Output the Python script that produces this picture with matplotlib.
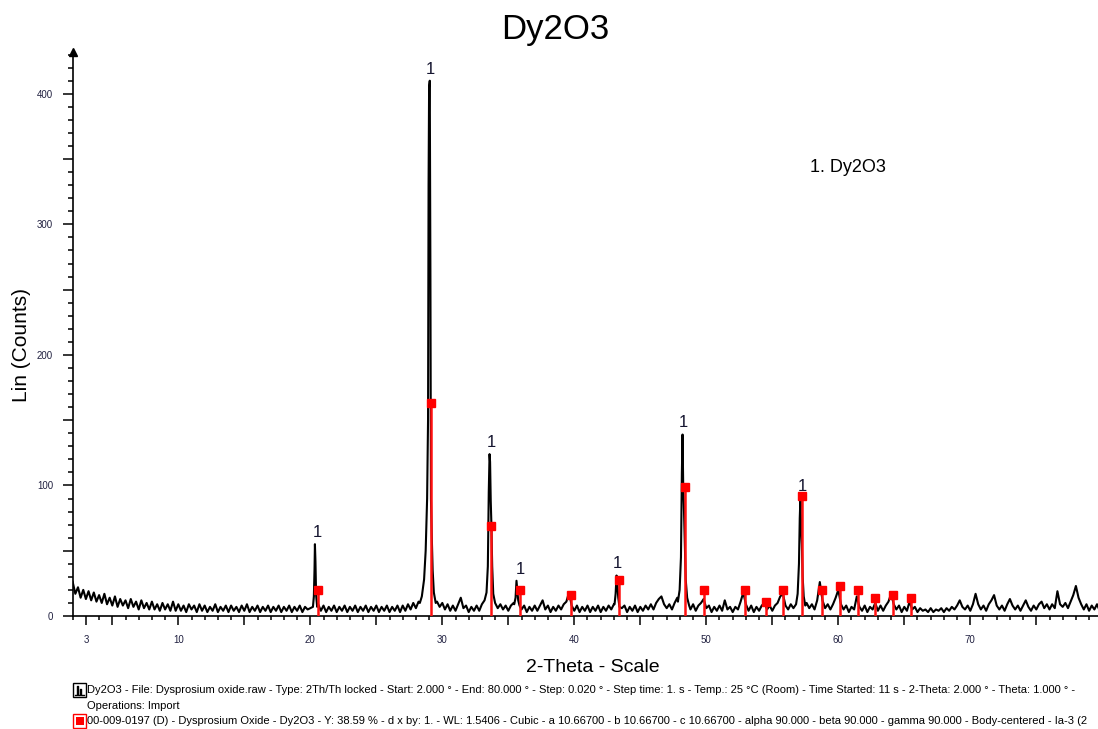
import matplotlib.pyplot as plt
import numpy as np
from matplotlib.patches import Rectangle
from matplotlib.lines import Line2D

plt.rcParams['font.family'] = ['Liberation Sans', 'DejaVu Sans']

# scan trace every 0.2 deg, starting at 2.0 deg
scan_start = 2.0
scan_step = 0.2
bg_counts = [
    26, 17, 22, 14, 20, 13, 19, 12, 18, 11,
    16, 10, 17, 9, 14, 8, 15, 7, 13, 8,
    12, 6, 13, 7, 11, 5, 12, 6, 10, 5,
    11, 5, 9, 4, 10, 5, 9, 4, 11, 4,
    9, 4, 8, 3, 9, 5, 8, 3, 9, 4,
    8, 3, 7, 4, 9, 3, 7, 4, 8, 3,
    8, 4, 7, 3, 8, 4, 9, 3, 7, 4,
    8, 3, 7, 4, 8, 3, 7, 4, 8, 3,
    7, 4, 8, 3, 7, 4, 8, 3, 7, 5,
    6, 9, 50, 9, 4, 8, 3, 7, 4, 8,
    3, 7, 4, 8, 3, 7, 4, 8, 3, 7,
    4, 8, 3, 7, 4, 8, 3, 7, 4, 8,
    3, 7, 4, 8, 3, 8, 4, 9, 5, 10,
    6, 11, 9, 14, 40, 400, 60, 20, 11, 7,
    10, 5, 9, 4, 8, 4, 9, 14, 6, 8,
    3, 7, 4, 8, 4, 9, 11, 20, 120, 18,
    10, 6, 9, 5, 8, 4, 8, 10, 27, 12,
    5, 8, 3, 7, 4, 8, 4, 8, 12, 5,
    8, 3, 7, 4, 8, 5, 9, 11, 18, 8,
    4, 8, 3, 7, 4, 8, 3, 7, 4, 8,
    3, 7, 4, 8, 5, 9, 31, 14, 6, 8,
    3, 7, 4, 8, 3, 7, 4, 8, 5, 9,
    5, 10, 13, 15, 9, 6, 9, 5, 10, 14,
    22, 139, 25, 9, 5, 9, 4, 8, 10, 13,
    6, 8, 3, 7, 4, 8, 4, 12, 5, 7,
    3, 7, 5, 11, 18, 9, 4, 8, 3, 7,
    4, 8, 10, 5, 8, 4, 8, 10, 15, 17,
    8, 5, 9, 6, 10, 14, 90, 20, 10, 6,
    9, 5, 12, 26, 12, 6, 9, 5, 9, 14,
    20, 9, 5, 8, 3, 7, 5, 15, 7, 4,
    8, 3, 7, 5, 10, 4, 8, 4, 8, 11,
    17, 9, 5, 8, 3, 7, 4, 11, 5, 7,
    3, 6, 4, 5, 3, 6, 3, 5, 4, 6,
    3, 6, 4, 7, 5, 8, 12, 7, 5, 8,
    4, 9, 17, 9, 5, 8, 4, 9, 12, 16,
    8, 5, 8, 4, 9, 13, 8, 5, 8, 4,
    8, 12, 7, 4, 8, 5, 9, 11, 6, 9,
    5, 9, 6, 19, 9, 7, 10, 6, 11, 16,
    23, 14, 9, 5, 9, 4, 8, 5, 9, 4,
]

# finer readings across the strong reflections
peak_tt = [
    [20.2, 20.27, 20.32, 20.35, 20.39, 20.44, 20.52],
    [28.3, 28.45, 28.62, 28.74, 28.85, 28.92, 28.96, 29.0, 29.05, 29.1, 29.14, 29.2, 29.27, 29.36, 29.5],
    [33.2, 33.35, 33.45, 33.52, 33.58, 33.62, 33.67, 33.72, 33.78, 33.86, 34.0],
    [35.45, 35.55, 35.62, 35.68, 35.75, 35.85],
    [43.05, 43.13, 43.2, 43.26, 43.33, 43.42],
    [47.85, 47.98, 48.08, 48.15, 48.2, 48.25, 48.3, 48.36, 48.44, 48.55, 48.7],
    [56.8, 56.92, 57.02, 57.08, 57.13, 57.18, 57.24, 57.3, 57.38, 57.5],
]
peak_counts = [
    [7, 15, 36, 55, 42, 16, 7],
    [10, 15, 28, 50, 90, 150, 330, 405, 410, 260, 90, 62, 35, 18, 10],
    [12, 18, 38, 95, 124, 118, 88, 70, 38, 17, 10],
    [9, 14, 27, 20, 12, 8],
    [9, 17, 31, 24, 14, 7],
    [11, 20, 45, 110, 139, 100, 85, 60, 28, 14, 8],
    [9, 17, 40, 75, 90, 70, 55, 30, 15, 8],
]

# 00-009-0197 Dy2O3 reference sticks
ref_tt = [20.55, 29.14, 33.72, 35.88, 39.75, 43.38, 48.37, 49.85, 52.93, 54.5,
          55.83, 57.25, 58.73, 60.13, 61.5, 62.8, 64.17, 65.5]
ref_counts = [20, 163, 69, 20, 16, 27.5, 99, 20, 20, 10.5,
              20, 92, 20, 22.7, 20, 13.5, 16.3, 13.5]

# "1" phase labels over the indexed peaks
label_tt = [20.5, 29.07, 33.7, 35.9, 43.25, 48.3, 57.25]
label_counts = [55, 410, 124, 27, 31, 139, 90]

legend_line1 = ("Dy2O3 - File: Dysprosium oxide.raw - Type: 2Th/Th locked - Start: 2.000 ° - "
                "End: 80.000 ° - Step: 0.020 ° - Step time: 1. s - Temp.: 25 °C (Room) - "
                "Time Started: 11 s - 2-Theta: 2.000 ° - Theta: 1.000 ° -")
legend_line2 = "Operations: Import"
legend_line3 = ("00-009-0197 (D) - Dysprosium Oxide - Dy2O3 - Y: 38.59 % - d x by: 1. - "
                "WL: 1.5406 - Cubic - a 10.66700 - b 10.66700 - c 10.66700 - alpha 90.000 - "
                "beta 90.000 - gamma 90.000 - Body-centered - Ia-3 (2")

# merge the coarse trace with the fine peak readings
tt = scan_start + scan_step * np.arange(len(bg_counts))
cnt = np.array(bg_counts, dtype=float)
keep = np.ones(len(tt), dtype=bool)
for p in peak_tt:
    keep &= ~((tt >= min(p) - 0.01) & (tt <= max(p) + 0.01))
x_all = np.concatenate([tt[keep]] + [np.array(p) for p in peak_tt])
y_all = np.concatenate([cnt[keep]] + [np.array(c, dtype=float) for c in peak_counts])
order = np.argsort(x_all)
x_all, y_all = x_all[order], y_all[order]

W, H = 1098, 729
fig = plt.figure(figsize=(W / 100, H / 100), dpi=100)
ax = fig.add_axes([72.7 / W, 113 / H, 1 - 72.7 / W, 564 / H])

ax.plot(x_all, y_all, color='black', lw=1.5, zorder=2)
ax.vlines(ref_tt, 0, ref_counts, color='#ff1010', lw=1.8, zorder=3)
ax.plot(ref_tt, ref_counts, 's', color='#ff0000', ms=5.5, zorder=4)
for x, y in zip(label_tt, label_counts):
    ax.annotate('1', (x, y), xytext=(0, 3), textcoords='offset points',
                ha='center', va='bottom', fontsize=12, color='#151530')

ax.set_xlim(2.0, 2.0 + (W - 72.7) / 13.2)
ax.set_ylim(0, 432)

for s in ['top', 'right']:
    ax.spines[s].set_visible(False)
for s in ['left', 'bottom']:
    ax.spines[s].set_linewidth(1.2)

xt = [3] + list(range(5, 80, 5))
ax.set_xticks(xt, labels=[str(v) if (v % 10 == 0 or v == 3) else '' for v in xt])
ax.set_xticks(range(2, 80), minor=True)
ax.xaxis.get_major_ticks()[0].tick1line.set_markersize(3)
yt = list(range(0, 450, 50))
ax.set_yticks(yt, labels=[str(v) if v % 100 == 0 else '' for v in yt])
ax.set_yticks(range(0, 440, 10), minor=True)
ax.tick_params(axis='x', which='major', length=6.5, width=1.1, pad=7, labelsize=7, labelcolor='#202040')
ax.tick_params(axis='x', which='minor', length=3, width=1.1)
ax.tick_params(axis='y', which='major', length=7.2, width=1.1, pad=7, labelsize=7, labelcolor='#202040')
ax.tick_params(axis='y', which='minor', length=3.6, width=1.1)
ax.plot(0, 1, marker='^', color='black', ms=6, transform=ax.transAxes, clip_on=False)

fig.text(555 / W, 1 - 29 / H, 'Dy2O3', ha='center', va='center', fontsize=25)
fig.text(22 / W, 1 - 345 / H, 'Lin (Counts)', rotation=90, ha='center', va='center', fontsize=15)
fig.text(593 / W, 1 - 667 / H, '2-Theta - Scale', ha='center', va='center', fontsize=14)
fig.text(810 / W, 1 - 168 / H, '1. Dy2O3', ha='left', va='center', fontsize=13)

fig.text(87 / W, 1 - 690 / H, legend_line1, ha='left', va='center', fontsize=8)
fig.text(87 / W, 1 - 706 / H, legend_line2, ha='left', va='center', fontsize=8)
fig.text(87 / W, 1 - 721 / H, legend_line3, ha='left', va='center', fontsize=8)


def fpx(x, y):
    return x / W, 1 - y / H


# legend icons
fig.add_artist(Rectangle(fpx(73, 697), 13 / W, 14 / H, fill=False, ec='black', lw=1,
                         transform=fig.transFigure))
gx = [75, 77, 77, 78, 78, 80, 80, 81, 81, 84]
gy = [695, 695, 686, 686, 695, 695, 689, 689, 695, 695]
fig.add_artist(Line2D([v / W for v in gx], [1 - v / H for v in gy], color='black', lw=1,
                      transform=fig.transFigure))
fig.add_artist(Rectangle(fpx(73, 728), 13 / W, 14 / H, fill=False, ec='#ff0000', lw=1,
                         transform=fig.transFigure))
fig.add_artist(Rectangle(fpx(76, 725), 8 / W, 8 / H, fc='#ff0000', ec='none',
                         transform=fig.transFigure))

fig.savefig('out.png', dpi=100)
